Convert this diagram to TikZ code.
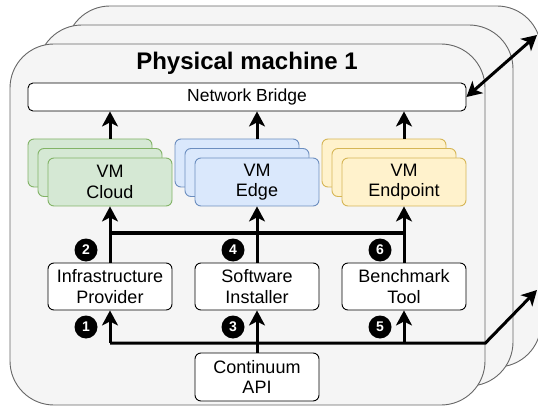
\documentclass[tikz,border=0pt]{standalone}
\usepackage{fontspec}
\setmainfont{Liberation Sans}
\usetikzlibrary{arrows.meta,calc}
\definecolor{machfill}{HTML}{F5F5F5}
\definecolor{machdraw}{HTML}{666666}
\definecolor{gfill}{HTML}{D5E8D4}
\definecolor{gdraw}{HTML}{82B366}
\definecolor{bfill}{HTML}{DAE8FC}
\definecolor{bdraw}{HTML}{6C8EBF}
\definecolor{yfill}{HTML}{FFF2CC}
\definecolor{ydraw}{HTML}{D6B656}
\begin{document}
\begin{tikzpicture}[x=1pt,y=-1pt,
  machine/.style={draw=machdraw, fill=machfill, line width=0.9pt, rounded corners=44pt,
    minimum width=475pt, minimum height=361pt, inner sep=0pt},
  wbox/.style={draw=black, fill=white, line width=0.9pt, rounded corners=6pt,
    minimum width=124pt, minimum height=47pt, inner sep=0pt, align=center,
    font=\fontsize{18}{20.5}\selectfont},
  vmg/.style={wbox, draw=gdraw, fill=gfill, minimum height=48pt},
  vmb/.style={wbox, draw=bdraw, fill=bfill, minimum height=48pt},
  vmy/.style={wbox, draw=ydraw, fill=yfill, minimum height=48pt},
  conn/.style={line width=3pt, -{Stealth[length=15pt,width=16pt,inset=4pt]}},
  dconn/.style={line width=3pt, {Stealth[length=15pt,width=16pt,inset=4pt]}-{Stealth[length=15pt,width=16pt,inset=4pt]}},
  bus/.style={line width=3pt},
  numc/.style={circle, fill=black, text=white, font=\bfseries\fontsize{14}{14}\selectfont,
    minimum size=23pt, inner sep=0pt},
  ttl/.style={font=\bfseries\fontsize{24}{28}\selectfont, inner sep=0pt}
]
\useasboundingbox (0,0) rectangle (538,406);
\clip (0,0) rectangle (538,406);

% machines
\node[machine] (m3) at (303.5,186.5) {};
\node[machine] (m2) at (275.5,205.5) {};
\node[machine] (m1) at (247.5,224.5) {};

\node[ttl] (title) at (247,63) {Physical machine 1};

\node[wbox, minimum width=438pt, minimum height=28pt, rounded corners=5pt,
  font=\fontsize{17.5}{20}\selectfont] (bridge) at (247,97) {Network Bridge};

% VM stacks
\node[vmg] (cloudB) at (90,163) {};
\node[vmg] (cloudM) at (100,172.5) {};
\node[vmg] (cloud) at (110,182) {VM\\Cloud};
\node[vmb] (edgeB) at (237,163) {};
\node[vmb] (edgeM) at (247,172.5) {};
\node[vmb] (edge) at (257,182) {VM\\Edge};
\node[vmy] (endpB) at (384,163) {};
\node[vmy] (endpM) at (394,172.5) {};
\node[vmy] (endp) at (404,182) {VM\\Endpoint};

% components
\node[wbox] (infra) at (110,286.5) {Infrastructure\\Provider};
\node[wbox] (soft) at (257,286.5) {Software\\Installer};
\node[wbox] (bench) at (404,286.5) {Benchmark\\Tool};
\node[wbox, minimum height=48pt] (api) at (257,377) {Continuum\\API};

% helper coordinates
\coordinate (hy) at (0,233);
\coordinate (hb) at (0,343);
\coordinate (out1) at (537,35);
\coordinate (out2) at (537,290);

% VMs to bridge
\draw[conn] (cloud.center |- cloudB.north) -- (cloud.center |- bridge.south);
\draw[conn] (edge.center |- edgeB.north) -- (edge.center |- bridge.south);
\draw[conn] (endp.center |- endpB.north) -- (endp.center |- bridge.south);

% components to VMs
\draw[bus] (infra.north |- hy) -- (bench.north |- hy);
\draw[conn] (infra.north) -- (cloud.south);
\draw[conn] (soft.north) -- (edge.south);
\draw[conn] (bench.north) -- (endp.south);

% API to components
\draw[conn] (infra.south |- hb) -- (hb -| m1.east) -- (out2);
\draw[conn] (infra.south |- hb) -- (infra.south);
\draw[conn] (api.north) -- (soft.south);
\draw[conn] (bench.south |- hb) -- (bench.south);

% bridge to other machines
\draw[dconn] (bridge.east) -- (out1);

% step numbers
\node[numc] (n1) at (86,327) {1};
\node[numc] (n2) at (86,250) {2};
\node[numc] (n3) at (233,327) {3};
\node[numc] (n4) at (233,250) {4};
\node[numc] (n5) at (380,327) {5};
\node[numc] (n6) at (380,250) {6};
\end{tikzpicture}
\end{document}
